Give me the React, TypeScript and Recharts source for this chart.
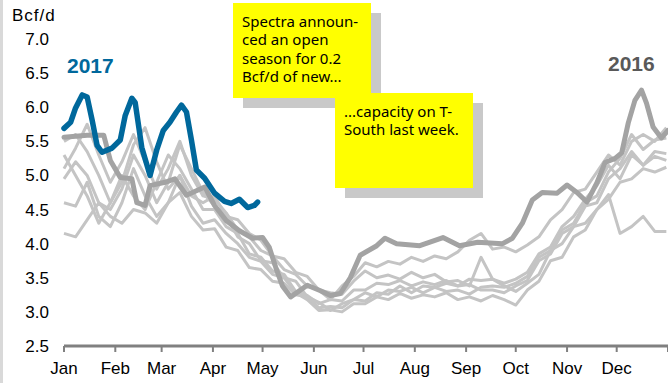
import { LineChart, Line, XAxis, YAxis } from 'recharts';

const MONTHS = ['Jan', 'Feb', 'Mar', 'Apr', 'May', 'Jun', 'Jul', 'Aug', 'Sep', 'Oct', 'Nov', 'Dec', ''];
const MONTH_STARTS = [0, 31, 59, 90, 120, 151, 181, 212, 243, 273, 304, 334, 365];
const Y_TICKS = [2.5, 3.0, 3.5, 4.0, 4.5, 5.0, 5.5, 6.0, 6.5, 7.0];

// 2017 (year to date)
const DAYS_2017 = [0, 4, 7, 11, 14, 17, 20, 23, 29, 34, 37, 41, 43, 47, 52, 56, 60, 64, 68, 71, 74, 77, 80, 85, 91, 97, 101, 106, 111, 115, 117];
const FLOW_2017 = [5.69, 5.78, 5.99, 6.18, 6.15, 5.81, 5.44, 5.34, 5.4, 5.52, 5.88, 6.13, 6.07, 5.41, 5.0, 5.37, 5.66, 5.78, 5.93, 6.03, 5.93, 5.52, 5.08, 4.96, 4.74, 4.62, 4.59, 4.65, 4.53, 4.56, 4.61];

// 2016
const DAYS_2016 = [0, 14, 24, 28, 34, 41, 44, 49, 52, 61, 67, 74, 85, 91, 98, 106, 114, 120, 124, 128, 132, 137, 147, 155, 161, 167, 173, 179, 189, 194, 201, 215, 229, 239, 250, 265, 271, 277, 283, 289, 298, 304, 310, 316, 322, 327, 333, 337, 341, 345, 349, 352, 356, 361, 365];
const FLOW_2016 = [5.56, 5.59, 5.59, 5.22, 4.97, 4.95, 4.6, 4.56, 4.85, 4.9, 4.95, 4.71, 4.83, 4.56, 4.34, 4.19, 4.08, 4.09, 3.95, 3.65, 3.38, 3.22, 3.39, 3.31, 3.24, 3.27, 3.5, 3.83, 3.97, 4.08, 4.0, 3.97, 4.09, 3.97, 4.02, 4.0, 4.08, 4.3, 4.64, 4.75, 4.74, 4.86, 4.75, 4.61, 4.89, 5.19, 5.25, 5.33, 5.77, 6.1, 6.25, 6.06, 5.71, 5.55, 5.66];

// earlier years, weekly
const WEEKS = [0, 7, 14, 21, 28, 35, 42, 49, 56, 63, 70, 77, 84, 91, 98, 105, 112, 119, 126, 133, 140, 147, 154, 161, 168, 175, 182, 189, 196, 203, 210, 217, 224, 231, 238, 245, 252, 259, 266, 273, 280, 287, 294, 301, 308, 315, 322, 329, 336, 343, 350, 357, 364];
const FLOW_2010 = [5.1, 5.4, 5.75, 5.3, 4.9, 5.2, 5.6, 5.2, 4.8, 5.1, 5.5, 5.0, 4.7, 4.65, 4.45, 4.2, 4.1, 3.9, 3.82, 3.62, 3.55, 3.38, 3.32, 3.18, 3.38, 3.52, 3.72, 3.66, 3.74, 3.7, 3.8, 3.74, 3.82, 3.78, 3.88, 4.05, 4.15, 3.92, 3.95, 3.88, 3.98, 4.1, 4.35, 4.5, 4.75, 4.8, 5.05, 5.3, 5.15, 5.5, 5.6, 5.5, 5.7];
const FLOW_2011 = [5.5, 5.6, 5.35, 5.0, 4.6, 4.9, 5.45, 5.7, 5.2, 4.8, 5.0, 4.7, 4.6, 4.7, 4.4, 4.35, 4.15, 4.05, 3.82, 3.78, 3.58, 3.52, 3.32, 3.28, 3.26, 3.45, 3.6, 3.5, 3.54, 3.48, 3.58, 3.5, 3.55, 3.44, 3.46, 3.38, 3.8, 3.48, 3.42, 3.48, 3.58, 3.85, 3.95, 4.25, 4.4, 4.65, 4.85, 5.15, 4.95, 5.3, 5.15, 5.35, 5.32];
const FLOW_2012 = [4.95, 5.2, 5.0, 4.6, 4.5, 4.8, 5.3, 5.0, 4.6, 4.9, 5.45, 5.1, 4.75, 4.55, 4.4, 4.1, 4.0, 3.75, 3.72, 3.5, 3.45, 3.22, 3.14, 3.02, 3.12, 3.18, 3.28, 3.22, 3.32, 3.3, 3.36, 3.28, 3.36, 3.3, 3.32, 3.26, 3.36, 3.38, 3.36, 3.42, 3.52, 3.8, 3.9, 4.2, 4.3, 4.6, 4.7, 5.05, 5.25, 5.6, 5.38, 5.52, 5.55];
const FLOW_2013 = [4.6, 4.55, 4.9, 4.4, 4.25, 4.6, 5.1, 4.7, 4.4, 4.6, 5.0, 4.55, 4.3, 4.35, 4.15, 4.0, 3.8, 3.74, 3.55, 3.5, 3.28, 3.18, 3.02, 3.03, 3.0, 3.12, 3.12, 3.22, 3.18, 3.27, 3.2, 3.25, 3.22, 3.28, 3.18, 3.22, 3.16, 3.24, 3.18, 3.1, 3.32, 3.45, 3.75, 3.8, 4.1, 4.2, 4.5, 4.65, 4.9, 4.95, 5.1, 5.05, 5.12];
const FLOW_2014 = [5.3, 5.0, 4.7, 4.3, 4.6, 5.0, 4.7, 4.5, 4.9, 5.3, 5.1, 4.8, 4.5, 4.5, 4.25, 4.15, 3.85, 3.8, 3.6, 3.55, 3.3, 3.24, 3.12, 3.18, 3.16, 3.32, 3.32, 3.42, 3.4, 3.46, 3.38, 3.44, 3.4, 3.46, 3.38, 3.4, 3.32, 3.32, 3.28, 3.38, 3.46, 3.75, 3.85, 4.15, 4.25, 4.55, 4.6, 4.95, 5.1, 5.35, 5.15, 5.28, 5.22];
const FLOW_2015 = [4.15, 4.1, 4.35, 4.6, 4.4, 4.3, 4.5, 4.45, 4.3, 4.6, 4.75, 4.4, 4.2, 4.22, 3.95, 3.9, 3.65, 3.62, 3.45, 3.42, 3.25, 3.22, 3.06, 3.08, 3.06, 3.18, 3.16, 3.28, 3.26, 3.38, 3.28, 3.38, 3.36, 3.42, 3.38, 3.48, 3.46, 3.48, 3.38, 3.3, 3.42, 3.55, 3.9, 4.0, 4.25, 4.3, 4.5, 4.72, 4.15, 4.25, 4.4, 4.18, 4.18];

const GRAY_YEARS = [
  { key: 'y2010', values: FLOW_2010 },
  { key: 'y2011', values: FLOW_2011 },
  { key: 'y2012', values: FLOW_2012 },
  { key: 'y2013', values: FLOW_2013 },
  { key: 'y2014', values: FLOW_2014 },
  { key: 'y2015', values: FLOW_2015 },
];

type Row = { d: number; [key: string]: number };

function buildRows(): Row[] {
  const rows = new Map<number, Row>();
  const put = (key: string, days: number[], values: number[]) => {
    days.forEach((d, i) => {
      if (!rows.has(d)) rows.set(d, { d });
      rows.get(d)![key] = values[i];
    });
  };
  GRAY_YEARS.forEach((g) => put(g.key, WEEKS, g.values));
  put('y2016', DAYS_2016, FLOW_2016);
  put('y2017', DAYS_2017, FLOW_2017);
  return [...rows.values()].sort((a, b) => a.d - b.d);
}

const AXIS_FONT = { fontSize: 17, fill: '#000', fontFamily: "'Liberation Sans', Arial, sans-serif" };
const NOTE_FONT = "'Comic Sans MS', 'Noto Sans', sans-serif";

function Note({ left, top, lines }: { left: number; top: number; lines: string[] }) {
  return (
    <>
      <div style={{ position: 'absolute', left: left + 10, top: top + 10, width: 138, height: 95, background: '#C9C9C9' }} />
      <div
        style={{
          position: 'absolute',
          left,
          top,
          width: 138,
          height: 95,
          background: '#FFFF00',
          boxSizing: 'border-box',
          padding: '9px 0 0 9px',
          fontFamily: NOTE_FONT,
          fontSize: 15,
          lineHeight: '18.3px',
          color: '#000',
          whiteSpace: 'nowrap',
        }}
      >
        {lines.map((l) => (
          <div key={l}>{l}</div>
        ))}
      </div>
    </>
  );
}

export default function App() {
  const data = buildRows();
  return (
    <div style={{ position: 'absolute', left: 0, top: 0, width: 668, height: 383, background: '#fff', overflow: 'hidden' }}>
      <div style={{ position: 'absolute', left: 0, top: 0, width: 3, height: 383, background: '#D9D9D9' }} />
      <LineChart width={668} height={383} data={data} margin={{ top: 39, right: 0, bottom: 0, left: 0 }}>
        <XAxis
          type="number"
          dataKey="d"
          domain={[0, 365]}
          ticks={MONTH_STARTS}
          interval={0}
          tickFormatter={(v: number) => MONTHS[MONTH_STARTS.indexOf(v)]}
          height={37}
          tick={AXIS_FONT}
          tickSize={6}
          tickMargin={10}
          axisLine={{ stroke: '#808080', strokeWidth: 3 }}
          tickLine={{ stroke: '#808080', strokeWidth: 2 }}
        />
        <YAxis
          type="number"
          domain={[2.5, 7]}
          ticks={Y_TICKS}
          interval={0}
          tickFormatter={(v: number) => v.toFixed(1)}
          width={64}
          tick={AXIS_FONT}
          tickSize={0}
          tickMargin={15}
          axisLine={false}
          tickLine={false}
        />
        {GRAY_YEARS.map((g) => (
          <Line
            key={g.key}
            type="linear"
            dataKey={g.key}
            stroke="#C4C4C4"
            strokeWidth={3}
            strokeLinejoin="round"
            dot={false}
            connectNulls
            isAnimationActive={false}
          />
        ))}
        <Line type="linear" dataKey="y2016" stroke="#A3A3A3" strokeWidth={5} strokeLinejoin="round" strokeLinecap="round" dot={false} connectNulls isAnimationActive={false} />
        <Line type="linear" dataKey="y2017" stroke="#00689C" strokeWidth={5.5} strokeLinejoin="round" strokeLinecap="round" dot={false} connectNulls isAnimationActive={false} />
      </LineChart>
      <div style={{ position: 'absolute', left: 12, top: 6, fontFamily: "'Liberation Sans', Arial, sans-serif", fontSize: 17, letterSpacing: 1, color: '#000' }}>
        Bcf/d
      </div>
      <div style={{ position: 'absolute', left: 67, top: 54, fontFamily: "'Liberation Sans', Arial, sans-serif", fontSize: 21, fontWeight: 'bold', color: '#00689C' }}>
        2017
      </div>
      <div style={{ position: 'absolute', left: 608, top: 52, fontFamily: "'Liberation Sans', Arial, sans-serif", fontSize: 21, fontWeight: 'bold', color: '#595959' }}>
        2016
      </div>
      <Note left={233} top={3} lines={['Spectra announ-', 'ced an open', 'season for 0.2', 'Bcf/d of new...']} />
      <Note left={335} top={93} lines={['...capacity on T-', 'South last week.']} />
    </div>
  );
}
